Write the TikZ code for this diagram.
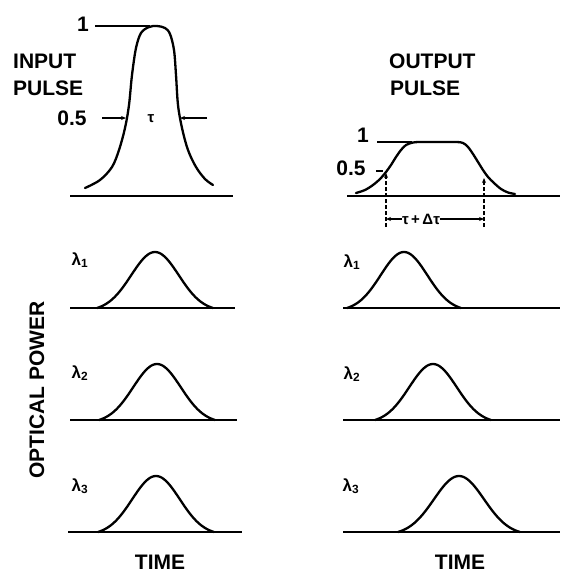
\documentclass[tikz,border=0pt]{standalone}
\usepackage{fontspec}
\setmainfont{Liberation Sans}
\usetikzlibrary{arrows.meta}
\tikzset{
  lbl/.style={font=\fontsize{21}{21}\selectfont\bfseries, inner sep=0pt},
  lam/.style={font=\fontsize{17}{17}\selectfont\bfseries, inner sep=0pt},
  small/.style={font=\fontsize{15}{15}\selectfont\bfseries, inner sep=0pt},
  axisline/.style={line width=2.8pt},
  curve/.style={line width=2.3pt, line join=round, line cap=round},
  thin/.style={line width=1.4pt},
  tip/.style={-{Stealth[length=5pt,width=4pt]}, line width=1.3pt},
}
\newcommand{\gausspulse}[3]{% center x, baseline y, half-width
  \draw[curve] plot[domain=-#3:#3, samples=61]
    ({#1+\x}, {#2 - 56*(exp(-(\x/(#3*0.58))^2)-0.051)/0.949});
}
\begin{document}
\begin{tikzpicture}[x=1pt, y=-1pt]
\useasboundingbox (0,0) rectangle (560,573);

% ---------- input pulse ----------
\node[lbl] (one1) at (83,24) {1};
\node[lbl, anchor=west] (inp) at (13,61) {INPUT};
\node[lbl, anchor=west] (inpp) at (13,88) {PULSE};
\node[lbl] (half1) at (72,118) {0.5};
\node[small] (tau) at (151,119) {τ};
\draw[axisline] (70,196) -- (233,196);
\draw[curve] plot[smooth, tension=0.55] coordinates {
  (85,188) (100,180) (112,167) (119,150) (125,128) (129,105) (132,75)
  (136,48) (141,33) (149,27) (157,26) (165,28) (170,34) (174,50)
  (176,75) (178,105) (182,128) (188,150) (196,167) (205,179) (213,185)};
\draw[thin] (95,26) -- (150,26);
\coordinate (la) at (102,118);
\coordinate (lb) at (126,118);
\coordinate (ra) at (207,118);
\coordinate (rb) at (180,118);
\draw[tip] (la) -- (lb);
\draw[tip] (ra) -- (rb);

% ---------- output pulse ----------
\node[lbl, anchor=west] (outp) at (389,61) {OUTPUT};
\node[lbl, anchor=west] (outpp) at (390,88) {PULSE};
\node[lbl] (one2) at (363,135) {1};
\node[lbl] (half2) at (351,168) {0.5};
\draw[axisline] (347,196) -- (560,196);
\draw[curve] plot[smooth, tension=0.5] coordinates {
  (356,193) (365,190) (373,185) (380,179) (386,172) (391,165) (396,157)
  (401,150) (406,145) (413,142.5) (422,142) (455,142) (463,143)
  (468,147) (473,154) (478,162) (483,170) (488,177) (494,183)
  (501,189) (508,192.5) (515,194)};
\draw[thin] (377,142) -- (412,142);
\draw[thin] (376,171) -- (383,171);
\coordinate (dl) at (386,227);
\coordinate (dlt) at (386,173);
\coordinate (dr) at (484,227);
\coordinate (drt) at (484,178);
\draw[tip, dashed, dash pattern=on 4pt off 2pt] (dl) -- (dlt);
\draw[tip, dashed, dash pattern=on 4pt off 2pt] (dr) -- (drt);
\node[small] (dt) at (421,219) {τ\,+\,Δτ};
\coordinate (al) at (386,219);
\coordinate (ar) at (484,219);
\draw[tip] (dt.west) -- (al);
\draw[tip] (dt.east) -- (ar);

% ---------- axis labels ----------
\node[lbl, rotate=90] (opt) at (37,390) {OPTICAL POWER};
\node[lbl] (time1) at (160,562) {TIME};
\node[lbl] (time2) at (460,562) {TIME};

% ---------- left wavelength pulses ----------
\node[lam] (l1) at (80,260) {λ\textsubscript{1}};
\node[lam] (l2) at (80,373) {λ\textsubscript{2}};
\node[lam] (l3) at (80,486) {λ\textsubscript{3}};
\draw[axisline] (70,308) -- (235,308);
\draw[axisline] (70,420) -- (237,420);
\draw[axisline] (68,532) -- (242,532);
\gausspulse{155}{308}{58}
\gausspulse{157}{420}{58}
\gausspulse{156}{532}{58}

% ---------- right wavelength pulses ----------
\node[lam] (r1) at (352,262) {λ\textsubscript{1}};
\node[lam] (r2) at (352,374) {λ\textsubscript{2}};
\node[lam] (r3) at (351,486) {λ\textsubscript{3}};
\draw[axisline] (343,308) -- (560,308);
\draw[axisline] (343,420) -- (560,420);
\draw[axisline] (343,532) -- (560,532);
\gausspulse{404}{308}{57}
\gausspulse{433}{420}{58}
\gausspulse{459}{532}{61}
\end{tikzpicture}
\end{document}
